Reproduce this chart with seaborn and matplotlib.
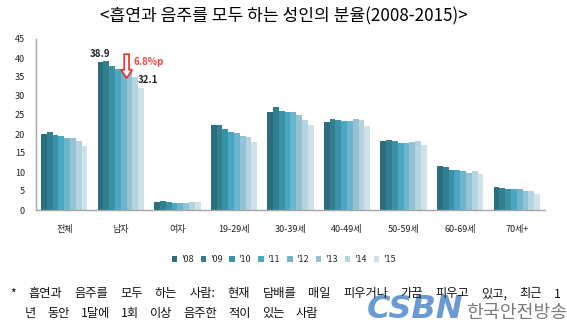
import matplotlib
matplotlib.use("Agg")
import matplotlib.pyplot as plt
from matplotlib.patches import FancyArrow
import seaborn as sns
import pandas as pd

categories = ['전체', '남자', '여자', '19-29세', '30-39세', '40-49세', '50-59세', '60-69세', '70세+']
years = ["'08", "'09", "'10", "'11", "'12", "'13", "'14", "'15"]

total = [20.1, 20.6, 19.8, 19.4, 19.0, 18.9, 18.2, 16.8]
male = [38.9, 39.3, 38.0, 37.1, 36.8, 36.2, 35.1, 32.1]
female = [2.0, 2.3, 2.0, 1.8, 1.8, 1.8, 2.0, 2.0]
age19_29 = [22.4, 22.4, 21.4, 20.6, 20.3, 19.6, 19.2, 17.9]
age30_39 = [25.9, 27.0, 26.1, 25.7, 25.7, 24.9, 23.7, 22.5]
age40_49 = [23.2, 23.9, 23.7, 23.5, 23.5, 23.9, 23.7, 22.0]
age50_59 = [18.2, 18.4, 18.1, 17.7, 17.7, 17.9, 18.2, 17.1]
age60_69 = [11.6, 11.4, 10.4, 10.4, 10.2, 9.8, 10.2, 9.6]
age70 = [6.1, 5.9, 5.4, 5.5, 5.4, 4.9, 4.9, 4.1]

series = [total, male, female, age19_29, age30_39, age40_49, age50_59, age60_69, age70]

palette = ['#2b6e7e', '#32808f', '#3b91a5', '#4aa7c1', '#6cb5cc', '#95c3d4', '#b5d4e0', '#cfe2ea']

title = '<흡연과 음주를 모두 하는 성인의 분율(2008-2015)>'
note1_words = ['*', '흡연과', '음주를', '모두', '하는', '사람:', '현재', '담배를', '매일',
               '피우거나', '가끔', '피우고', '있고,', '최근', '1']
note2_words = ['년', '동안', '1달에', '1회', '이상', '음주한', '적이', '있는', '사람']

rows = []
for c, vals in zip(categories, series):
    for y, v in zip(years, vals):
        rows.append({'category': c, 'year': y, 'value': v})
df = pd.DataFrame(rows)

sns.set_theme(style='white')
plt.rcParams['font.family'] = ['Noto Sans CJK KR', 'DejaVu Sans']

fig = plt.figure(figsize=(5.67, 3.26), dpi=100)
ax = fig.add_axes([36 / 567, 1 - 210 / 326, (545 - 36) / 567, (210 - 39) / 326])

sns.barplot(data=df, x='category', y='value', hue='year', palette=palette,
            width=0.82, gap=0, ax=ax, legend=True, linewidth=0, saturation=1)

ax.set_xlim(-0.5, len(categories) - 0.5)
ax.set_ylim(0, 45)
ax.set_yticks(range(0, 46, 5))
ax.set_xlabel('')
ax.set_ylabel('')
for s in ['top', 'right']:
    ax.spines[s].set_visible(False)
for s in ['left', 'bottom']:
    ax.spines[s].set_color('#a6a6a6')
    ax.spines[s].set_linewidth(1.0)

ax.tick_params(axis='y', length=0, pad=8, labelsize=6.5, labelcolor='#222222')
ax.tick_params(axis='x', which='major', length=0, pad=11, labelsize=6.5, labelcolor='#222222')
ax.set_xticks([i - 0.5 for i in range(len(categories) + 1)], minor=True)
ax.tick_params(axis='x', which='minor', length=4, width=1, color='#a6a6a6', direction='out')

# annotations on the male group
first_bar = ax.containers[0][1]
last_bar = ax.containers[len(years) - 1][1]
ax.text(first_bar.get_x() + first_bar.get_width() / 2, male[0] + 2.1, f'{male[0]:.1f}',
        ha='center', va='center', fontsize=7, fontweight='bold', color='#222222')
ax.text(last_bar.get_x(), male[-1] + 2.1, f'{male[-1]:.1f}',
        ha='left', va='center', fontsize=7, fontweight='bold', color='#222222')

mid_bar = ax.containers[4][1]
ax_x = mid_bar.get_x() + mid_bar.get_width()
arrow = FancyArrow(ax_x, 41.0, 0, -6.3, width=0.085, head_width=0.2, head_length=2.2,
                   length_includes_head=True, facecolor='white', edgecolor='#ee2a2a',
                   linewidth=1.2, zorder=5)
ax.add_patch(arrow)
ax.text(ax_x + 0.12, 38.9, f'{male[0] - male[-1]:.1f}%p', ha='left', va='center',
        fontsize=7, fontweight='bold', color='#f04848')

# legend
handles, labels = ax.get_legend_handles_labels()
ax.get_legend().remove()
fig.legend(handles, labels, loc='center', bbox_to_anchor=(0.5, 1 - 260 / 326), ncol=8,
           frameon=False, fontsize=6.5, handlelength=0.6, handleheight=0.6,
           handletextpad=0.4, columnspacing=0.8, borderpad=0)

fig.text(0.5, 1 - 16 / 326, title, ha='center', va='center', fontsize=12.3, color='#000000')

# watermark logo text (drawn beneath the footnote)
fig.text(367 / 567, 1 - 310 / 326, 'CSBN', ha='left', va='center', fontsize=23,
         fontweight='heavy', fontstyle='italic', color='#5b8fcf', alpha=0.9,
         family=['DejaVu Sans'], zorder=1)
fig.text(466 / 567, 1 - 313 / 326, '한국안전방송', ha='left', va='center', fontsize=13.2,
         color='#7a7a7a', zorder=1)

# footnote: first line justified across the width, second line with natural spacing
fig.canvas.draw()
renderer = fig.canvas.get_renderer()
note_kw = dict(ha='left', va='center', fontsize=8.8, color='#111111', zorder=3)
x_left, x_right = 10, 561
widths = []
tmp = []
for w in note1_words:
    t = fig.text(0, 0, w, **note_kw)
    widths.append(t.get_window_extent(renderer).width)
    tmp.append(t)
for t in tmp:
    t.remove()
gap = (x_right - x_left - sum(widths)) / (len(note1_words) - 1)
x = x_left
for w, wd in zip(note1_words, widths):
    fig.text(x / 567, 1 - 294 / 326, w, **note_kw)
    x += wd + gap

x = 25
gap2 = 11.0
for w in note2_words:
    t = fig.text(x / 567, 1 - 314 / 326, w, **note_kw)
    x += t.get_window_extent(renderer).width + gap2

fig.savefig('out.png', dpi=100)
